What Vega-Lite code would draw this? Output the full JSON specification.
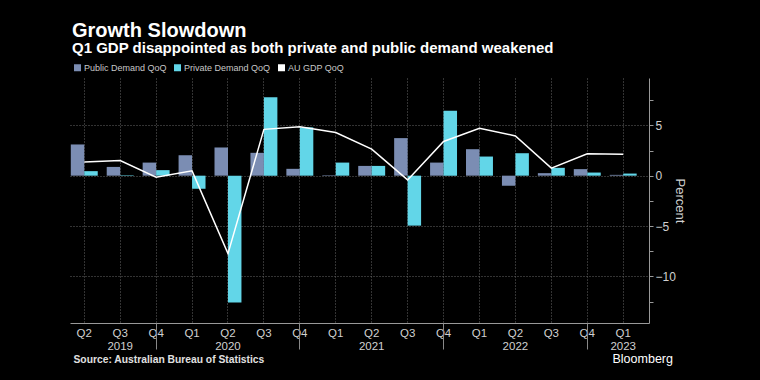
{
  "$schema": "https://vega.github.io/schema/vega-lite/v6.json",
  "autosize": "none",
  "width": 579,
  "height": 245,
  "padding": {"top": 78, "left": 70, "right": 111, "bottom": 57},
  "background": "#000000",
  "title": {
    "text": "Growth Slowdown",
    "subtitle": "Q1 GDP disappointed as both private and public demand weakened",
    "anchor": "start",
    "frame": "group",
    "font": "Liberation Sans",
    "fontSize": 20,
    "fontWeight": "bold",
    "color": "#ffffff",
    "subtitleFont": "Liberation Sans",
    "subtitleFontSize": 15,
    "subtitleFontWeight": "bold",
    "subtitleColor": "#ffffff",
    "subtitlePadding": 0,
    "offset": 7,
    "dx": 2
  },
  "config": {
    "view": {"stroke": null},
    "font": "Liberation Sans, sans-serif"
  },
  "data": {
    "values": [
      {"q": "2019 Q2", "series": "Public Demand QoQ", "value": 3.1},
      {"q": "2019 Q3", "series": "Public Demand QoQ", "value": 0.87},
      {"q": "2019 Q4", "series": "Public Demand QoQ", "value": 1.3},
      {"q": "2020 Q1", "series": "Public Demand QoQ", "value": 2.03},
      {"q": "2020 Q2", "series": "Public Demand QoQ", "value": 2.8},
      {"q": "2020 Q3", "series": "Public Demand QoQ", "value": 2.27},
      {"q": "2020 Q4", "series": "Public Demand QoQ", "value": 0.68},
      {"q": "2021 Q1", "series": "Public Demand QoQ", "value": 0.05},
      {"q": "2021 Q2", "series": "Public Demand QoQ", "value": 0.97},
      {"q": "2021 Q3", "series": "Public Demand QoQ", "value": 3.73},
      {"q": "2021 Q4", "series": "Public Demand QoQ", "value": 1.3},
      {"q": "2022 Q1", "series": "Public Demand QoQ", "value": 2.63},
      {"q": "2022 Q2", "series": "Public Demand QoQ", "value": -1.0},
      {"q": "2022 Q3", "series": "Public Demand QoQ", "value": 0.25},
      {"q": "2022 Q4", "series": "Public Demand QoQ", "value": 0.65},
      {"q": "2023 Q1", "series": "Public Demand QoQ", "value": 0.08},
      {"q": "2019 Q2", "series": "Private Demand QoQ", "value": 0.45},
      {"q": "2019 Q3", "series": "Private Demand QoQ", "value": 0.05},
      {"q": "2019 Q4", "series": "Private Demand QoQ", "value": 0.55},
      {"q": "2020 Q1", "series": "Private Demand QoQ", "value": -1.3},
      {"q": "2020 Q2", "series": "Private Demand QoQ", "value": -12.6},
      {"q": "2020 Q3", "series": "Private Demand QoQ", "value": 7.8},
      {"q": "2020 Q4", "series": "Private Demand QoQ", "value": 4.8},
      {"q": "2021 Q1", "series": "Private Demand QoQ", "value": 1.3},
      {"q": "2021 Q2", "series": "Private Demand QoQ", "value": 0.97},
      {"q": "2021 Q3", "series": "Private Demand QoQ", "value": -4.96},
      {"q": "2021 Q4", "series": "Private Demand QoQ", "value": 6.44},
      {"q": "2022 Q1", "series": "Private Demand QoQ", "value": 1.9},
      {"q": "2022 Q2", "series": "Private Demand QoQ", "value": 2.23},
      {"q": "2022 Q3", "series": "Private Demand QoQ", "value": 0.78},
      {"q": "2022 Q4", "series": "Private Demand QoQ", "value": 0.31},
      {"q": "2023 Q1", "series": "Private Demand QoQ", "value": 0.21},
      {"q": "2019 Q2", "series": "AU GDP QoQ", "value": 1.37},
      {"q": "2019 Q3", "series": "AU GDP QoQ", "value": 1.5},
      {"q": "2019 Q4", "series": "AU GDP QoQ", "value": -0.15},
      {"q": "2020 Q1", "series": "AU GDP QoQ", "value": 0.48},
      {"q": "2020 Q2", "series": "AU GDP QoQ", "value": -7.74},
      {"q": "2020 Q3", "series": "AU GDP QoQ", "value": 4.6},
      {"q": "2020 Q4", "series": "AU GDP QoQ", "value": 4.85},
      {"q": "2021 Q1", "series": "AU GDP QoQ", "value": 4.28},
      {"q": "2021 Q2", "series": "AU GDP QoQ", "value": 2.63},
      {"q": "2021 Q3", "series": "AU GDP QoQ", "value": -0.42},
      {"q": "2021 Q4", "series": "AU GDP QoQ", "value": 3.4},
      {"q": "2022 Q1", "series": "AU GDP QoQ", "value": 4.7},
      {"q": "2022 Q2", "series": "AU GDP QoQ", "value": 3.95},
      {"q": "2022 Q3", "series": "AU GDP QoQ", "value": 0.75},
      {"q": "2022 Q4", "series": "AU GDP QoQ", "value": 2.17},
      {"q": "2023 Q1", "series": "AU GDP QoQ", "value": 2.13}
    ]
  },
  "resolve": {"axis": {"x": "independent", "y": "independent"}},
  "layer": [
    {
      "transform": [{"filter": "datum.series != 'AU GDP QoQ'"}],
      "mark": {"type": "bar"},
      "encoding": {
        "x": {
          "field": "q",
          "type": "ordinal",
          "scale": {"type": "band", "paddingInner": 0.25, "paddingOuter": 0.1825, "align": 0.06},
          "axis": {
            "orient": "bottom",
            "ticks": false,
            "grid": true,
            "gridColor": "#666666",
            "gridDash": [1, 2],
            "gridWidth": 1,
            "domain": true,
            "domainColor": "#999999",
            "domainWidth": 1,
            "labelAngle": 0,
            "labelColor": "#d0d0d0",
            "labelFontSize": 11.5,
            "labelLineHeight": 13,
            "labelPadding": 4,
            "labelExpr": "indexof(['2019 Q3','2020 Q2','2021 Q2','2022 Q2','2023 Q1'], datum.value) >= 0 ? [substring(datum.value,5), substring(datum.value,0,4)] : substring(datum.value,5)",
            "title": "Source: Australian Bureau of Statistics",
            "titleFont": "Liberation Sans, sans-serif",
            "titleFontSize": 10.3,
            "titleFontWeight": "bold",
            "titleColor": "#e0e0e0",
            "titleAnchor": "start",
            "titleAlign": "left",
            "titleX": 3,
            "titlePadding": 3
          }
        },
        "xOffset": {
          "field": "series",
          "type": "nominal",
          "scale": {"domain": ["Public Demand QoQ", "Private Demand QoQ"], "paddingInner": 0, "paddingOuter": 0}
        },
        "y": {
          "field": "value",
          "type": "quantitative",
          "scale": {"domain": [-14.63, 9.7], "nice": false, "zero": false},
          "axis": {
            "orient": "left",
            "values": [-10, -5, 0, 5],
            "grid": true,
            "gridColor": "#666666",
            "gridWidth": 1,
            "gridDash": [1, 2],
            "labels": false,
            "ticks": false,
            "domain": false,
            "title": null
          }
        },
        "color": {
          "field": "series",
          "type": "nominal",
          "scale": {
            "domain": ["Public Demand QoQ", "Private Demand QoQ", "AU GDP QoQ"],
            "range": ["#7b8db3", "#62d6e8", "#ffffff"]
          },
          "legend": {
            "orient": "none",
            "legendX": 3,
            "legendY": -15,
            "direction": "horizontal",
            "title": null,
            "symbolType": "square",
            "symbolSize": 49,
            "symbolStrokeWidth": 0,
            "labelColor": "#c8c8c8",
            "labelFontSize": 9,
            "labelOffset": 2,
            "columnPadding": 6
          }
        }
      }
    },
    {
      "transform": [{"filter": "datum.series == 'AU GDP QoQ'"}],
      "mark": {"type": "line", "color": "#ffffff", "strokeWidth": 1.5},
      "encoding": {
        "x": {
          "field": "q",
          "type": "ordinal",
          "axis": {
            "orient": "bottom",
            "values": ["2019 Q4", "2020 Q4", "2021 Q4", "2022 Q4"],
            "labels": false,
            "grid": false,
            "domain": false,
            "ticks": true,
            "tickColor": "#888888",
            "tickSize": 26,
            "tickWidth": 1,
            "title": "Bloomberg",
            "titleFont": "Liberation Sans, sans-serif",
            "titleFontSize": 12.5,
            "titleFontWeight": "normal",
            "titleColor": "#ffffff",
            "titleAnchor": "start",
            "titleAlign": "left",
            "titleX": 542,
            "titlePadding": 3
          }
        },
        "y": {
          "field": "value",
          "type": "quantitative",
          "axis": {
            "orient": "right",
            "values": [-12.5, -10, -7.5, -5, -2.5, 0, 2.5, 5, 7.5],
            "labelExpr": "datum.value % 5 == 0 ? datum.label : ''",
            "grid": false,
            "domain": true,
            "domainColor": "#999999",
            "tickColor": "#999999",
            "tickSize": 4,
            "labelColor": "#d0d0d0",
            "labelFontSize": 12,
            "labelPadding": 2,
            "title": "Percent",
            "titleColor": "#d0d0d0",
            "titleFontSize": 13,
            "titleFontWeight": "normal",
            "titlePadding": -3
          }
        }
      }
    }
  ]
}
